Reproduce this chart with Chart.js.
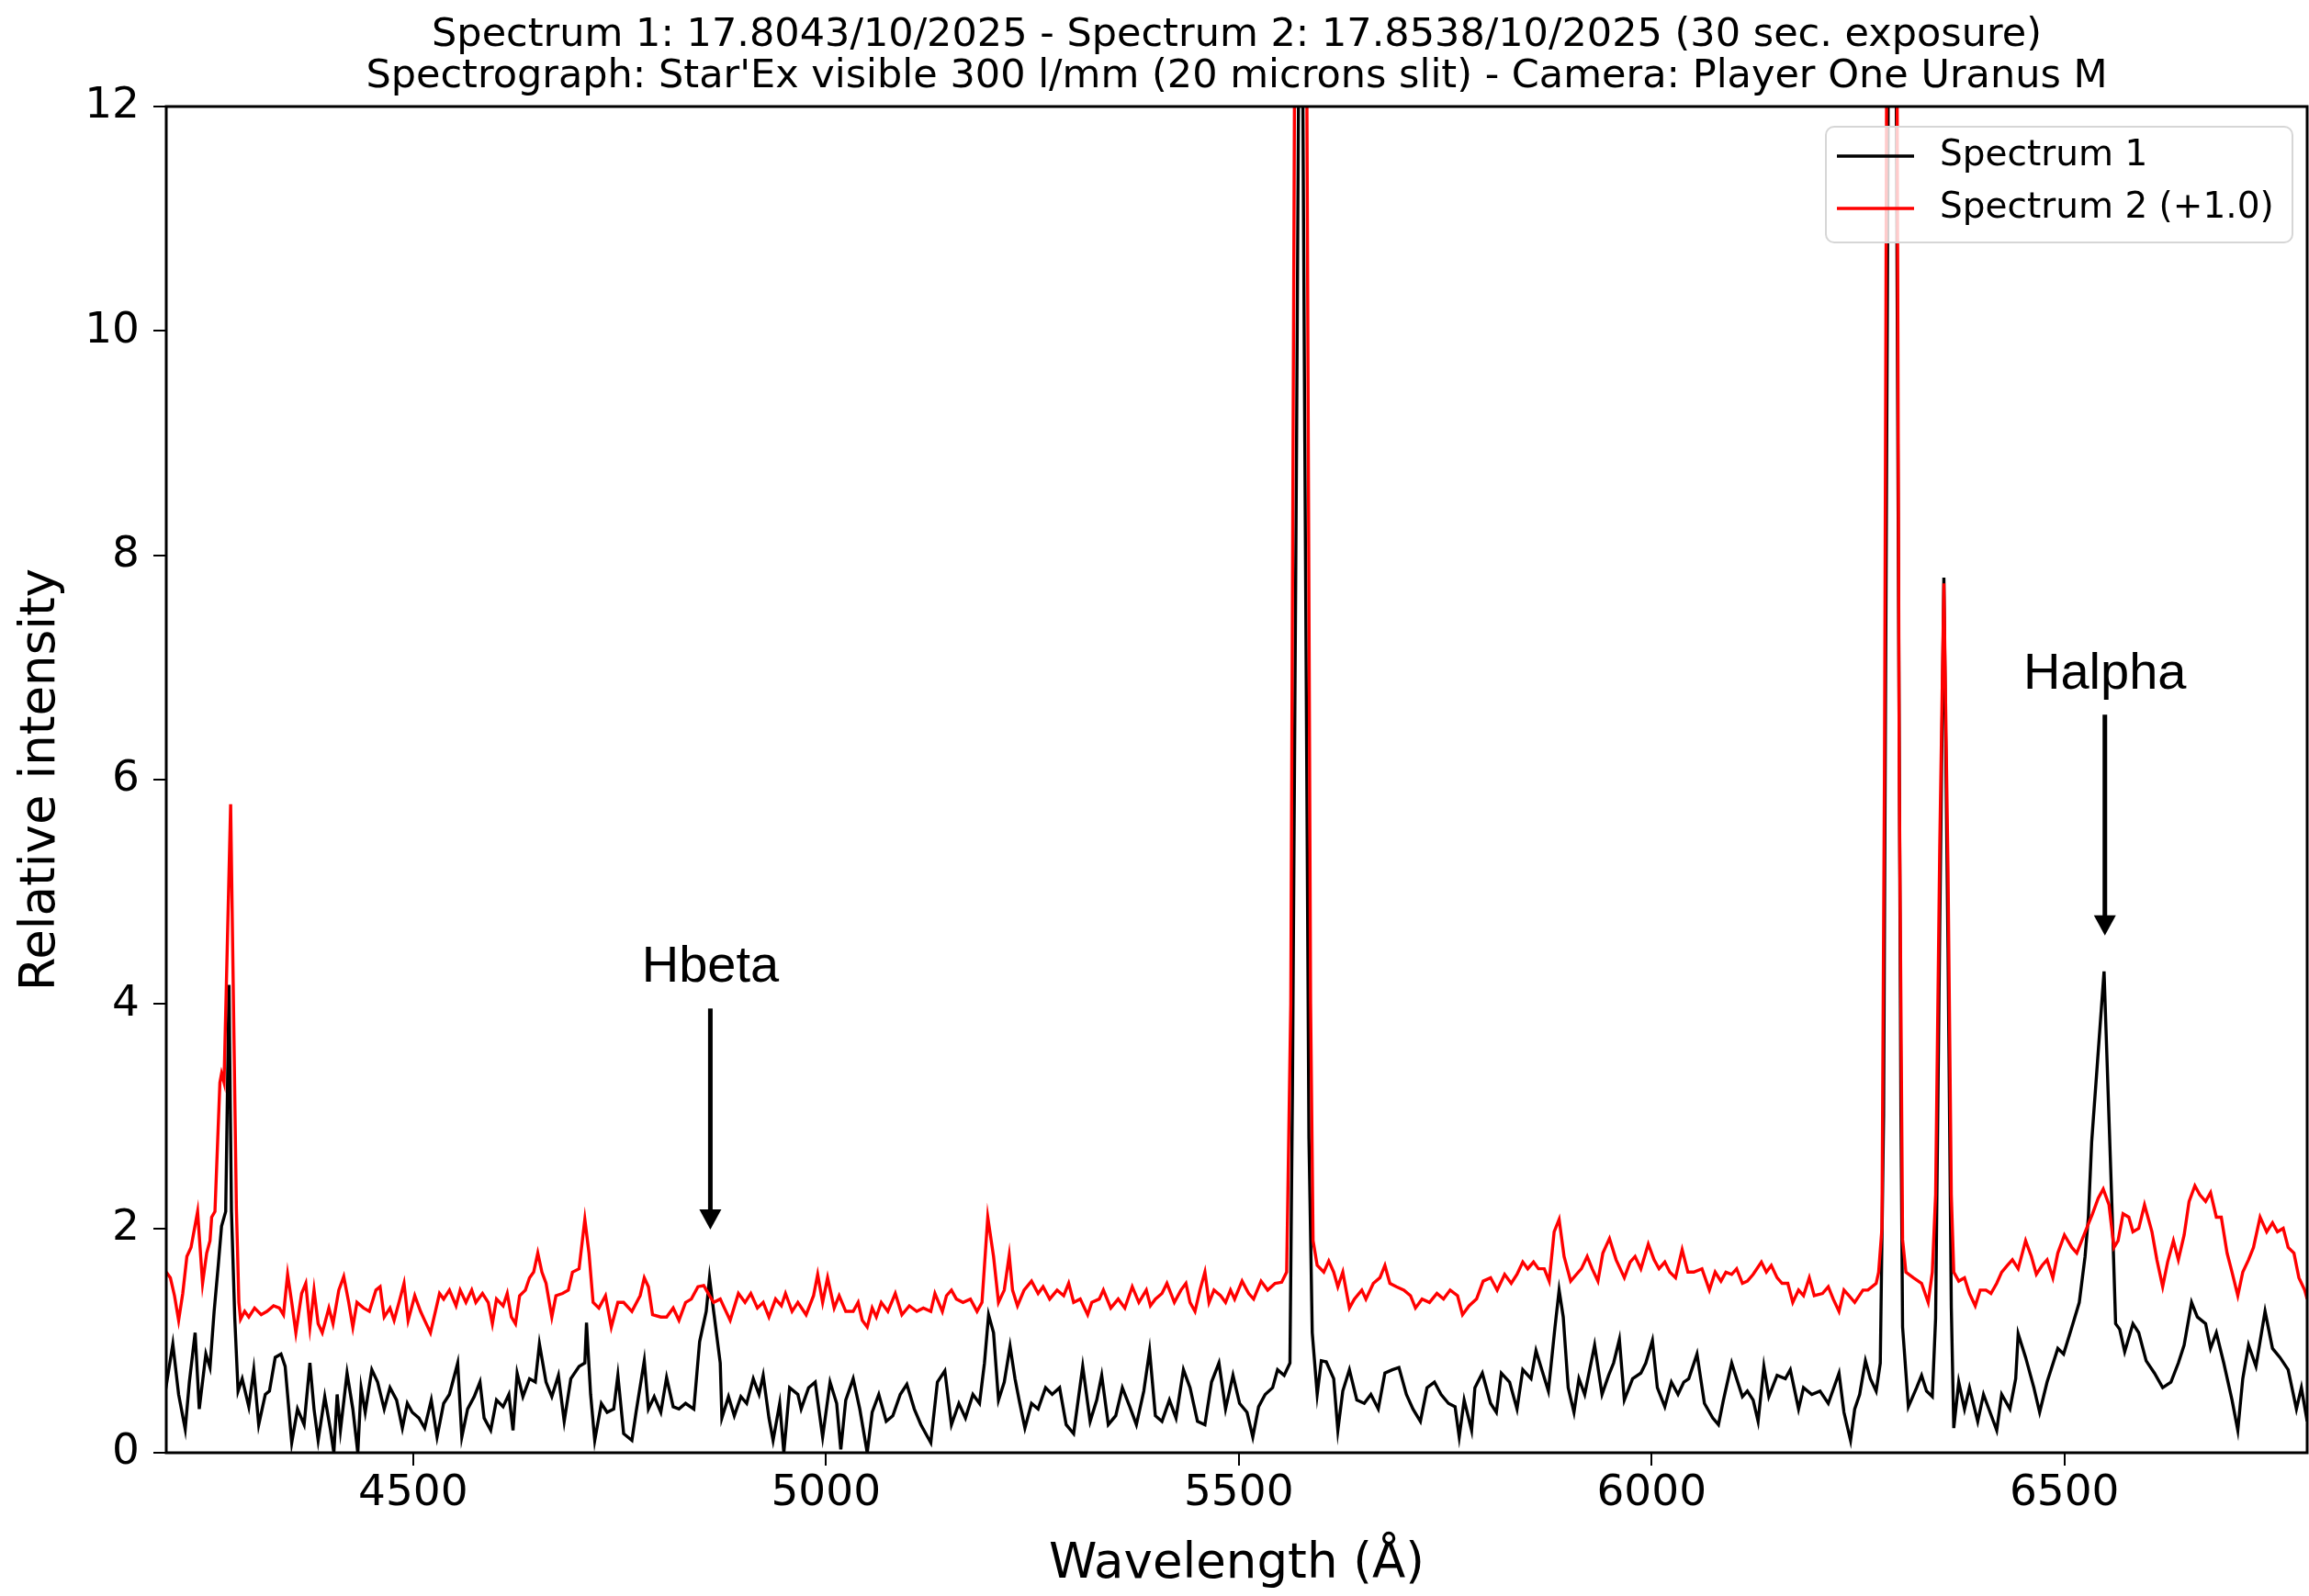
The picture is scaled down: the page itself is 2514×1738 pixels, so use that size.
<!DOCTYPE html>
<html lang="en">
<head>
    <meta charset="UTF-8">
    <title>Spectrum 1 / Spectrum 2</title>
    <script src="https://cdn.jsdelivr.net/npm/chart.js"></script>
    <style>
        body {
            margin: 0;
            background: #fff;
        }
        #spectre {
            display: block;
        }
    </style>
</head>
<body>

    <canvas id="spectre" width="2514" height="1738"></canvas>

    <script>
        // Spectrum 1 (black): wavelength (Å) and relative intensity
        const wave1 = [4200, 4209, 4216, 4224, 4229, 4236, 4241, 4249, 4254, 4259, 4264, 4268, 4273, 4277, 4280, 4284, 4288, 4293, 4301, 4307,
            4313, 4321, 4326, 4333, 4340, 4345, 4353, 4360, 4368, 4375, 4380, 4385, 4393, 4400, 4404, 4408, 4412, 4420, 4427, 4433,
            4437, 4442, 4450, 4457, 4465, 4472, 4480, 4487, 4493, 4499, 4507, 4514, 4522, 4529, 4537, 4544, 4554, 4559, 4566, 4574,
            4581, 4586, 4594, 4601, 4609, 4616, 4621, 4626, 4633, 4641, 4648, 4653, 4661, 4668, 4676, 4683, 4691, 4701, 4708, 4710,
            4715, 4720, 4728, 4735, 4743, 4748, 4755, 4765, 4770, 4780, 4785, 4792, 4800, 4807, 4815, 4822, 4830, 4840, 4847, 4855,
            4859, 4864, 4872, 4874, 4882, 4889, 4897, 4904, 4912, 4919, 4924, 4931, 4936, 4944, 4949, 4956, 4966, 4970, 4979, 4987,
            4996, 5005, 5013, 5018, 5024, 5033, 5041, 5050, 5056, 5064, 5073, 5081, 5090, 5098, 5107, 5115, 5127, 5135, 5144, 5152,
            5161, 5169, 5178, 5186, 5192, 5197, 5203, 5209, 5216, 5223, 5229, 5234, 5241, 5249, 5257, 5266, 5274, 5283, 5291, 5300,
            5311, 5320, 5328, 5334, 5342, 5351, 5359, 5368, 5376, 5385, 5392, 5399, 5407, 5416, 5424, 5433, 5441, 5450, 5459, 5467,
            5476, 5484, 5493, 5501, 5510, 5517, 5524, 5532, 5541, 5547, 5555, 5562, 5565, 5570, 5575, 5580, 5585, 5589, 5595, 5600,
            5606, 5615, 5620, 5626, 5634, 5643, 5652, 5660, 5669, 5677, 5686, 5694, 5703, 5711, 5720, 5728, 5737, 5745, 5754, 5762,
            5767, 5773, 5782, 5786, 5795, 5805, 5812, 5818, 5828, 5837, 5844, 5854, 5860, 5867, 5875, 5883, 5888, 5893, 5899, 5906,
            5912, 5919, 5925, 5931, 5940, 5948, 5954, 5961, 5967, 5977, 5987, 5993, 6001, 6007, 6016, 6024, 6032, 6039, 6045, 6055,
            6064, 6074, 6081, 6087, 6097, 6103, 6110, 6116, 6123, 6129, 6136, 6142, 6152, 6162, 6168, 6178, 6184, 6194, 6204, 6214,
            6227, 6233, 6241, 6246, 6252, 6259, 6265, 6272, 6277, 6281, 6286, 6291, 6297, 6302, 6304, 6311, 6321, 6327, 6333, 6340,
            6344, 6349, 6354, 6359, 6363, 6366, 6372, 6379, 6385, 6395, 6402, 6418, 6424, 6434, 6441, 6444, 6453, 6463, 6470, 6479,
            6492, 6499, 6509, 6518, 6525, 6529, 6533, 6548, 6558, 6562, 6567, 6573, 6583, 6590, 6599, 6609, 6619, 6629, 6638, 6645,
            6654, 6661, 6671, 6677, 6684, 6693, 6703, 6710, 6716, 6723, 6732, 6743, 6752, 6761, 6771, 6781, 6787, 6794];
        const flux1 = [0.55, 0.97, 0.52, 0.21, 0.63, 1.07, 0.39, 0.88, 0.76, 1.26, 1.67, 2.02, 2.15, 4.17, 2.15, 1.20, 0.55, 0.66, 0.41, 0.74,
            0.25, 0.52, 0.55, 0.85, 0.88, 0.77, 0.09, 0.39, 0.25, 0.80, 0.39, 0.11, 0.50, 0.20, 0.00, 0.52, 0.20, 0.71, 0.39, 0.00,
            0.58, 0.36, 0.74, 0.63, 0.39, 0.58, 0.47, 0.22, 0.44, 0.36, 0.31, 0.22, 0.47, 0.14, 0.44, 0.52, 0.80, 0.14, 0.39, 0.50,
            0.63, 0.31, 0.20, 0.47, 0.41, 0.52, 0.20, 0.71, 0.50, 0.66, 0.63, 0.97, 0.63, 0.50, 0.69, 0.28, 0.66, 0.77, 0.80, 1.16,
            0.52, 0.11, 0.44, 0.36, 0.39, 0.69, 0.17, 0.11, 0.36, 0.82, 0.39, 0.50, 0.36, 0.67, 0.41, 0.39, 0.44, 0.39, 0.99, 1.26,
            1.56, 1.26, 0.80, 0.31, 0.50, 0.33, 0.50, 0.44, 0.66, 0.52, 0.69, 0.31, 0.11, 0.44, 0.00, 0.58, 0.52, 0.39, 0.58, 0.63,
            0.14, 0.63, 0.44, 0.03, 0.47, 0.66, 0.39, 0.00, 0.36, 0.52, 0.28, 0.33, 0.52, 0.61, 0.39, 0.25, 0.09, 0.63, 0.73, 0.25,
            0.44, 0.31, 0.52, 0.44, 0.80, 1.23, 1.07, 0.47, 0.63, 0.95, 0.66, 0.47, 0.22, 0.44, 0.39, 0.58, 0.52, 0.58, 0.25, 0.17,
            0.77, 0.28, 0.47, 0.69, 0.25, 0.33, 0.58, 0.41, 0.25, 0.55, 0.91, 0.33, 0.28, 0.47, 0.31, 0.74, 0.58, 0.28, 0.25, 0.63,
            0.80, 0.39, 0.69, 0.44, 0.36, 0.14, 0.41, 0.52, 0.58, 0.74, 0.69, 0.80, 3.2, 9.0, 15.5, 9.0, 2.8, 1.07, 0.52, 0.82,
            0.81, 0.66, 0.20, 0.55, 0.74, 0.47, 0.44, 0.52, 0.39, 0.71, 0.74, 0.76, 0.52, 0.39, 0.28, 0.58, 0.63, 0.52, 0.44, 0.41,
            0.14, 0.47, 0.20, 0.58, 0.71, 0.44, 0.36, 0.71, 0.63, 0.39, 0.74, 0.66, 0.91, 0.74, 0.55, 1.12, 1.45, 1.21, 0.58, 0.36,
            0.66, 0.52, 0.74, 0.96, 0.52, 0.69, 0.80, 1.01, 0.47, 0.66, 0.71, 0.80, 1.00, 0.58, 0.41, 0.63, 0.52, 0.63, 0.66, 0.88,
            0.44, 0.31, 0.25, 0.47, 0.80, 0.66, 0.50, 0.55, 0.47, 0.28, 0.77, 0.50, 0.69, 0.66, 0.74, 0.39, 0.58, 0.52, 0.55, 0.44,
            0.71, 0.36, 0.11, 0.39, 0.52, 0.82, 0.66, 0.55, 0.80, 3.0, 11, 21, 11, 3.0, 1.12, 0.41, 0.58, 0.69, 0.55, 0.50,
            1.2, 4.7, 7.8, 4.5, 1.3, 0.22, 0.63, 0.39, 0.58, 0.28, 0.52, 0.20, 0.52, 0.39, 0.66, 1.06, 0.85, 0.58, 0.36, 0.63,
            0.93, 0.88, 1.12, 1.34, 1.75, 2.10, 2.77, 4.29, 2.10, 1.15, 1.10, 0.90, 1.15, 1.07, 0.82, 0.71, 0.58, 0.63, 0.80, 0.96,
            1.34, 1.21, 1.15, 0.93, 1.07, 0.80, 0.47, 0.20, 0.66, 0.96, 0.77, 1.26, 0.93, 0.85, 0.74, 0.39, 0.58, 0.28];

        // Spectrum 2 (red): raw values, drawn shifted by +1.0
        const wave2 = [4201, 4206, 4211, 4216, 4221, 4226, 4231, 4239, 4245, 4250, 4254, 4256, 4260, 4266, 4268, 4271, 4279, 4286, 4289, 4291,
            4296, 4301, 4308, 4316, 4323, 4331, 4338, 4343, 4348, 4353, 4358, 4365, 4370, 4375, 4380, 4385, 4390, 4398, 4403, 4410,
            4416, 4422, 4427, 4432, 4440, 4447, 4455, 4460, 4465, 4472, 4477, 4484, 4489, 4494, 4502, 4509, 4514, 4521, 4527, 4532,
            4537, 4544, 4552, 4557, 4564, 4571, 4576, 4584, 4591, 4596, 4601, 4609, 4614, 4619, 4624, 4629, 4636, 4641, 4646, 4651,
            4656, 4661, 4668, 4673, 4681, 4688, 4693, 4701, 4708, 4713, 4718, 4725, 4733, 4740, 4748, 4755, 4765, 4775, 4780, 4785,
            4790, 4800, 4807, 4815, 4822, 4830, 4837, 4845, 4852, 4859, 4864, 4872, 4877, 4884, 4894, 4902, 4909, 4917, 4924, 4931,
            4939, 4946, 4951, 4959, 4966, 4976, 4985, 4990, 4996, 5002, 5010, 5016, 5024, 5033, 5039, 5044, 5050, 5056, 5061, 5067,
            5075, 5084, 5092, 5101, 5110, 5118, 5127, 5132, 5141, 5146, 5152, 5158, 5166, 5175, 5183, 5189, 5196, 5203, 5209, 5216,
            5222, 5226, 5232, 5240, 5249, 5257, 5263, 5271, 5280, 5288, 5294, 5300, 5308, 5317, 5322, 5331, 5336, 5345, 5354, 5362,
            5371, 5379, 5388, 5393, 5399, 5407, 5413, 5422, 5430, 5436, 5441, 5447, 5453, 5459, 5464, 5470, 5478, 5484, 5490, 5495,
            5504, 5512, 5518, 5527, 5535, 5544, 5552, 5558, 5563, 5568, 5575, 5582, 5587, 5590, 5595, 5603, 5609, 5615, 5620, 5626,
            5634, 5640, 5649, 5654, 5663, 5671, 5677, 5683, 5691, 5700, 5708, 5714, 5722, 5731, 5740, 5748, 5756, 5765, 5771, 5779,
            5788, 5796, 5805, 5813, 5822, 5830, 5837, 5844, 5850, 5857, 5863, 5870, 5876, 5882, 5888, 5894, 5902, 5909, 5915, 5922,
            5928, 5935, 5941, 5949, 5957, 5967, 5974, 5980, 5987, 5996, 6003, 6009, 6016, 6022, 6029, 6037, 6044, 6051, 6061, 6070,
            6077, 6084, 6090, 6097, 6103, 6110, 6116, 6123, 6133, 6139, 6145, 6152, 6158, 6165, 6171, 6178, 6184, 6191, 6197, 6207,
            6214, 6220, 6227, 6233, 6239, 6246, 6256, 6262, 6272, 6275, 6279, 6282, 6285, 6291, 6297, 6300, 6304, 6308, 6317, 6327,
            6335, 6340, 6344, 6349, 6354, 6359, 6363, 6366, 6372, 6379, 6385, 6392, 6398, 6405, 6411, 6418, 6424, 6431, 6437, 6444,
            6453, 6460, 6466, 6473, 6479, 6486, 6492, 6500, 6509, 6515, 6522, 6528, 6534, 6541, 6547, 6554, 6560, 6565, 6571, 6578,
            6583, 6590, 6597, 6606, 6612, 6619, 6625, 6632, 6638, 6645, 6651, 6658, 6664, 6671, 6677, 6684, 6690, 6697, 6703, 6710,
            6716, 6723, 6729, 6737, 6745, 6752, 6758, 6765, 6771, 6778, 6784, 6791, 6794];
        const flux2 = [0.61, 0.56, 0.40, 0.18, 0.42, 0.75, 0.83, 1.15, 0.51, 0.78, 0.89, 1.10, 1.15, 2.30, 2.38, 2.30, 4.78, 1.17, 0.34, 0.19,
            0.26, 0.21, 0.29, 0.23, 0.26, 0.31, 0.29, 0.23, 0.59, 0.34, 0.07, 0.42, 0.51, 0.12, 0.45, 0.15, 0.07, 0.29, 0.15, 0.45,
            0.57, 0.34, 0.12, 0.34, 0.29, 0.26, 0.45, 0.48, 0.21, 0.29, 0.18, 0.37, 0.51, 0.18, 0.40, 0.26, 0.18, 0.07, 0.26, 0.42,
            0.37, 0.45, 0.31, 0.45, 0.34, 0.45, 0.34, 0.42, 0.34, 0.15, 0.37, 0.31, 0.42, 0.21, 0.15, 0.40, 0.45, 0.56, 0.61, 0.78,
            0.61, 0.51, 0.21, 0.40, 0.42, 0.45, 0.61, 0.64, 1.08, 0.78, 0.34, 0.29, 0.40, 0.12, 0.34, 0.34, 0.26, 0.40, 0.56, 0.48,
            0.23, 0.21, 0.21, 0.29, 0.18, 0.34, 0.37, 0.48, 0.49, 0.40, 0.34, 0.37, 0.29, 0.18, 0.42, 0.34, 0.42, 0.29, 0.34, 0.21,
            0.37, 0.31, 0.42, 0.26, 0.34, 0.23, 0.40, 0.59, 0.34, 0.56, 0.29, 0.40, 0.26, 0.26, 0.34, 0.18, 0.12, 0.29, 0.21, 0.34,
            0.26, 0.42, 0.23, 0.31, 0.26, 0.29, 0.26, 0.42, 0.26, 0.40, 0.45, 0.37, 0.34, 0.37, 0.26, 0.34, 1.10, 0.75, 0.34, 0.45,
            0.76, 0.45, 0.31, 0.45, 0.53, 0.42, 0.48, 0.37, 0.45, 0.40, 0.51, 0.34, 0.37, 0.23, 0.34, 0.37, 0.45, 0.29, 0.37, 0.29,
            0.48, 0.34, 0.45, 0.31, 0.37, 0.42, 0.51, 0.34, 0.45, 0.51, 0.34, 0.26, 0.45, 0.61, 0.34, 0.45, 0.40, 0.34, 0.45, 0.37,
            0.53, 0.42, 0.37, 0.53, 0.45, 0.51, 0.52, 0.61, 3.0, 12, 25, 12, 3.0, 0.89, 0.67, 0.61, 0.71, 0.61, 0.48, 0.61,
            0.29, 0.37, 0.45, 0.37, 0.51, 0.56, 0.67, 0.51, 0.48, 0.45, 0.40, 0.29, 0.37, 0.34, 0.42, 0.37, 0.45, 0.40, 0.23, 0.31,
            0.37, 0.53, 0.56, 0.45, 0.59, 0.51, 0.59, 0.70, 0.64, 0.70, 0.64, 0.64, 0.53, 0.97, 1.08, 0.75, 0.53, 0.59, 0.64, 0.75,
            0.64, 0.53, 0.78, 0.91, 0.72, 0.56, 0.70, 0.75, 0.64, 0.86, 0.72, 0.64, 0.70, 0.61, 0.56, 0.81, 0.61, 0.61, 0.64, 0.45,
            0.61, 0.53, 0.61, 0.59, 0.64, 0.51, 0.53, 0.59, 0.70, 0.61, 0.67, 0.56, 0.51, 0.51, 0.34, 0.45, 0.40, 0.56, 0.40, 0.42,
            0.48, 0.37, 0.26, 0.45, 0.40, 0.34, 0.45, 0.45, 0.51, 0.61, 1.0, 5.0, 12, 25, 12, 5.0, 0.9, 0.61, 0.56, 0.51,
            0.34, 0.61, 1.3, 4.4, 6.75, 4.2, 1.3, 0.61, 0.53, 0.56, 0.42, 0.31, 0.45, 0.45, 0.42, 0.51, 0.61, 0.67, 0.72, 0.64,
            0.89, 0.75, 0.59, 0.67, 0.72, 0.56, 0.78, 0.94, 0.83, 0.78, 0.91, 1.02, 1.13, 1.27, 1.35, 1.21, 0.83, 0.89, 1.13, 1.10,
            0.97, 1.00, 1.21, 0.97, 0.72, 0.48, 0.70, 0.89, 0.72, 0.94, 1.24, 1.38, 1.30, 1.24, 1.32, 1.10, 1.10, 0.78, 0.61, 0.40,
            0.61, 0.72, 0.83, 1.10, 0.97, 1.05, 0.97, 1.00, 0.83, 0.78, 0.56, 0.45, 0.37];
        const offset2 = 1.0;

        const seriesNames = ['Spectrum 1', 'Spectrum 2 (+1.0)'];
        const seriesColors = ['#000000', '#ff0000'];
        const xTicks = [4500, 5000, 5500, 6000, 6500];
        const yTicks = [0, 2, 4, 6, 8, 10, 12];
        const titleLines = [
            'Spectrum 1: 17.8043/10/2025 - Spectrum 2: 17.8538/10/2025 (30 sec. exposure)',
            "Spectrograph: Star'Ex visible 300 l/mm (20 microns slit) - Camera: Player One Uranus M"
        ];
        const xTitle = 'Wavelength (\u00C5)';
        const yTitle = 'Relative intensity';

        // line identifications (arrow x in Å, arrow tip / tail / text in intensity units)
        const lineNames = ['Hbeta', 'Halpha'];
        const lineWaves = [4860, 6549];
        const arrowTips = [1.99, 4.61];
        const arrowTails = [3.96, 6.58];
        const labelBase = [4.20, 6.81];

        const pts1 = wave1.map((w, i) => ({ x: w, y: flux1[i] }));
        const pts2 = wave2.map((w, i) => ({ x: w, y: flux2[i] + offset2 }));

        const police = 'DejaVu Sans';

        // title, frame, arrows and legend box
        const habillage = {
            id: 'habillage',
            afterDatasetsDraw(chart) {
                const { ctx, chartArea: a, scales } = chart;
                ctx.save();

                // title, centred over the axes
                ctx.fillStyle = '#000';
                ctx.font = '43px "' + police + '"';
                ctx.textAlign = 'center';
                ctx.textBaseline = 'middle';
                titleLines.forEach((t, i) => {
                    ctx.fillText(t, (a.left + a.right) / 2, 39 + i * 45);
                });

                // arrows + labels
                ctx.strokeStyle = '#000';
                ctx.font = '56px "Liberation Sans", Arial, sans-serif';
                ctx.textBaseline = 'alphabetic';
                lineNames.forEach((nom, i) => {
                    const x = scales.x.getPixelForValue(lineWaves[i]);
                    const yTip = scales.y.getPixelForValue(arrowTips[i]);
                    const yTail = scales.y.getPixelForValue(arrowTails[i]);
                    const yText = scales.y.getPixelForValue(labelBase[i]);
                    ctx.fillText(nom, x, yText);
                    ctx.lineWidth = 5;
                    ctx.beginPath();
                    ctx.moveTo(x, yTail);
                    ctx.lineTo(x, yTip - 18);
                    ctx.stroke();
                    ctx.beginPath();
                    ctx.moveTo(x - 12, yTip - 22);
                    ctx.lineTo(x + 12, yTip - 22);
                    ctx.lineTo(x, yTip);
                    ctx.closePath();
                    ctx.fill();
                });

                // axes frame
                ctx.lineWidth = 3;
                ctx.strokeRect(a.left, a.top, a.right - a.left, a.bottom - a.top);

                // legend
                const bw = 508, bh = 126;
                const bx = a.right - 16 - bw, by = a.top + 22;
                ctx.beginPath();
                ctx.roundRect(bx, by, bw, bh, 9);
                ctx.fillStyle = 'rgba(255,255,255,0.8)';
                ctx.fill();
                ctx.lineWidth = 2;
                ctx.strokeStyle = '#d6d6d6';
                ctx.stroke();
                ctx.font = '39px "' + police + '"';
                ctx.textAlign = 'left';
                ctx.textBaseline = 'middle';
                seriesNames.forEach((nom, i) => {
                    const yy = by + 32 + i * 57;
                    ctx.strokeStyle = seriesColors[i];
                    ctx.lineWidth = 3.5;
                    ctx.beginPath();
                    ctx.moveTo(bx + 12, yy);
                    ctx.lineTo(bx + 96, yy);
                    ctx.stroke();
                    ctx.fillStyle = '#000';
                    ctx.fillText(nom, bx + 124, yy);
                });

                ctx.restore();
            }
        };

        const ctx = document.getElementById('spectre').getContext('2d');
        const graphique = new Chart(ctx, {
            type: 'line',
            data: {
                datasets: [
                    {
                        label: seriesNames[0],
                        data: pts1,
                        borderColor: seriesColors[0],
                        borderWidth: 3.4,
                        pointRadius: 0,
                        tension: 0,
                        order: 1
                    },
                    {
                        label: seriesNames[1],
                        data: pts2,
                        borderColor: seriesColors[1],
                        borderWidth: 3.4,
                        pointRadius: 0,
                        tension: 0,
                        order: 0
                    }
                ]
            },
            options: {
                responsive: false,
                animation: false,
                devicePixelRatio: 1,
                layout: { padding: { left: 0, right: 2, top: 116, bottom: 0 } },
                plugins: {
                    legend: { display: false },
                    tooltip: { enabled: false },
                    title: { display: false }
                },
                scales: {
                    x: {
                        type: 'linear',
                        min: 4201,
                        max: 6794,
                        afterBuildTicks: s => { s.ticks = xTicks.map(v => ({ value: v })); },
                        afterFit: s => { s.height = 156; },
                        grid: { display: true, drawOnChartArea: false, drawTicks: true, tickLength: 14, color: '#000', lineWidth: 2 },
                        border: { display: false },
                        ticks: {
                            color: '#000',
                            padding: 3,
                            maxRotation: 0,
                            font: { family: police, size: 47 },
                            callback: v => String(v)
                        },
                        title: {
                            display: true,
                            text: xTitle,
                            color: '#000',
                            font: { family: police, size: 53 },
                            padding: { top: 0, bottom: 2 }
                        }
                    },
                    y: {
                        min: 0,
                        max: 12,
                        afterBuildTicks: s => { s.ticks = yTicks.map(v => ({ value: v })); },
                        afterFit: s => { s.width = 181; },
                        grid: { display: true, drawOnChartArea: false, drawTicks: true, tickLength: 14, color: '#000', lineWidth: 2 },
                        border: { display: false },
                        ticks: {
                            color: '#000',
                            padding: 15,
                            font: { family: police, size: 47 },
                            callback: v => String(v)
                        },
                        title: {
                            display: true,
                            text: yTitle,
                            color: '#000',
                            font: { family: police, size: 53 },
                            padding: { top: 13, bottom: 0 }
                        }
                    }
                }
            },
            plugins: [habillage]
        });
    </script>

</body>
</html>
